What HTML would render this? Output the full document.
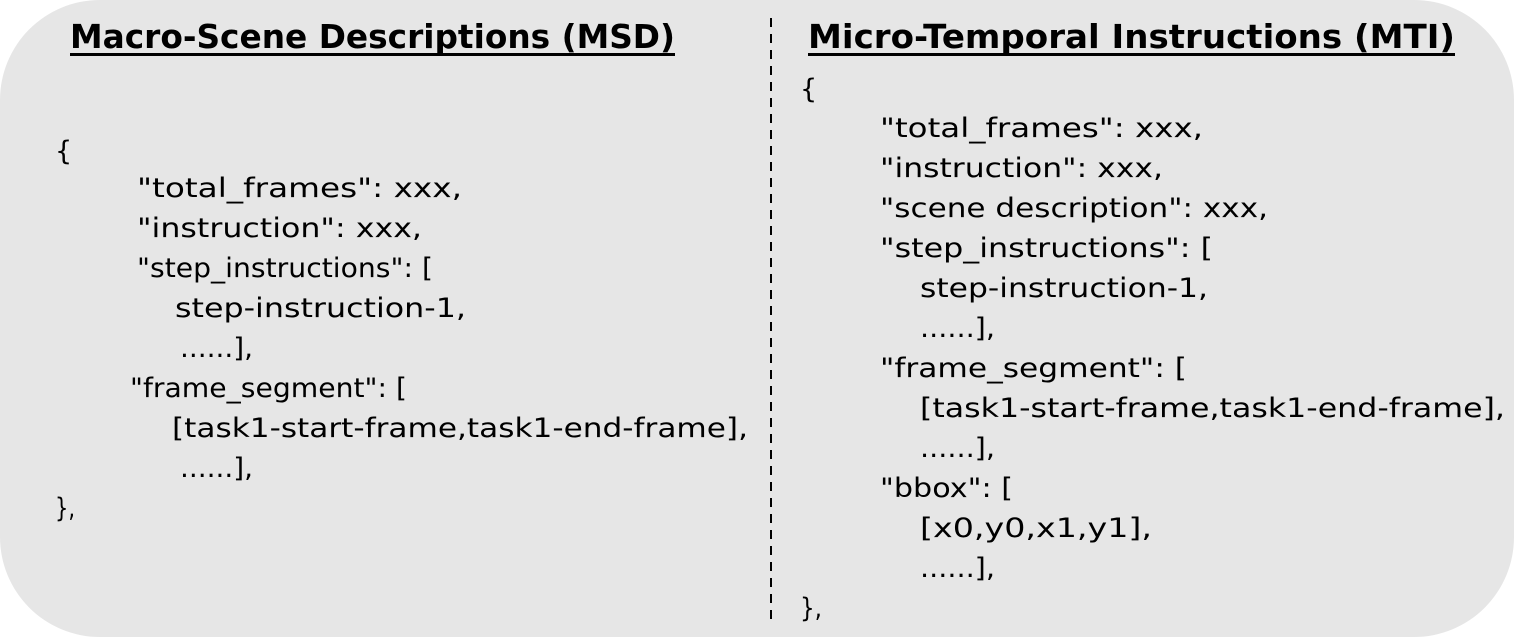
<!DOCTYPE html><html><head><style>body{margin:0;background:#fff}svg{display:block}</style></head><body>
<svg width="1527" height="637" xmlns="http://www.w3.org/2000/svg" font-family="'Comic Sans MS','DejaVu Sans','Liberation Sans',sans-serif" fill="#000">
<rect x="0" y="0" width="1514" height="637" rx="100" fill="#e6e6e6"/>
<line x1="771" y1="18" x2="771" y2="622" stroke="#000" stroke-width="2" stroke-dasharray="9,7"/>
<g font-size="33" font-weight="bold">
<text x="70" y="48" textLength="605" lengthAdjust="spacingAndGlyphs">Macro-Scene Descriptions (MSD)</text>
<text x="808" y="48" textLength="647" lengthAdjust="spacingAndGlyphs">Micro-Temporal Instructions (MTI)</text>
</g>
<rect x="70" y="53" width="605" height="3"/>
<rect x="808" y="53" width="647" height="3"/>
<g font-size="27">
<text x="55" y="160">{</text>
<text x="137" y="197" textLength="325" lengthAdjust="spacingAndGlyphs">"total_frames": xxx,</text>
<text x="137" y="237" textLength="285" lengthAdjust="spacingAndGlyphs">"instruction": xxx,</text>
<text x="137" y="277" textLength="296" lengthAdjust="spacingAndGlyphs">"step_instructions": [</text>
<text x="175" y="317" textLength="291" lengthAdjust="spacingAndGlyphs">step-instruction-1,</text>
<text x="180" y="357" textLength="73" lengthAdjust="spacingAndGlyphs">......],</text>
<text x="130" y="397" textLength="277" lengthAdjust="spacingAndGlyphs">"frame_segment": [</text>
<text x="172" y="437" textLength="576" lengthAdjust="spacingAndGlyphs">[task1-start-frame,task1-end-frame],</text>
<text x="180" y="477" textLength="73" lengthAdjust="spacingAndGlyphs">......],</text>
<text x="55" y="517" textLength="20" lengthAdjust="spacingAndGlyphs">},</text>

<text x="800" y="98">{</text>
<text x="880" y="137" textLength="323" lengthAdjust="spacingAndGlyphs">"total_frames": xxx,</text>
<text x="880" y="177" textLength="283" lengthAdjust="spacingAndGlyphs">"instruction": xxx,</text>
<text x="880" y="217" textLength="388" lengthAdjust="spacingAndGlyphs">"scene description": xxx,</text>
<text x="880" y="257" textLength="333" lengthAdjust="spacingAndGlyphs">"step_instructions": [</text>
<text x="920" y="297" textLength="288" lengthAdjust="spacingAndGlyphs">step-instruction-1,</text>
<text x="920" y="337" textLength="75" lengthAdjust="spacingAndGlyphs">......],</text>
<text x="880" y="377" textLength="307" lengthAdjust="spacingAndGlyphs">"frame_segment": [</text>
<text x="920" y="417" textLength="585" lengthAdjust="spacingAndGlyphs">[task1-start-frame,task1-end-frame],</text>
<text x="920" y="457" textLength="75" lengthAdjust="spacingAndGlyphs">......],</text>
<text x="880" y="497" textLength="133" lengthAdjust="spacingAndGlyphs">"bbox": [</text>
<text x="920" y="537" textLength="232" lengthAdjust="spacingAndGlyphs">[x0,y0,x1,y1],</text>
<text x="920" y="577" textLength="75" lengthAdjust="spacingAndGlyphs">......],</text>
<text x="800" y="617" textLength="22" lengthAdjust="spacingAndGlyphs">},</text>
</g>
</svg>
</body></html>
